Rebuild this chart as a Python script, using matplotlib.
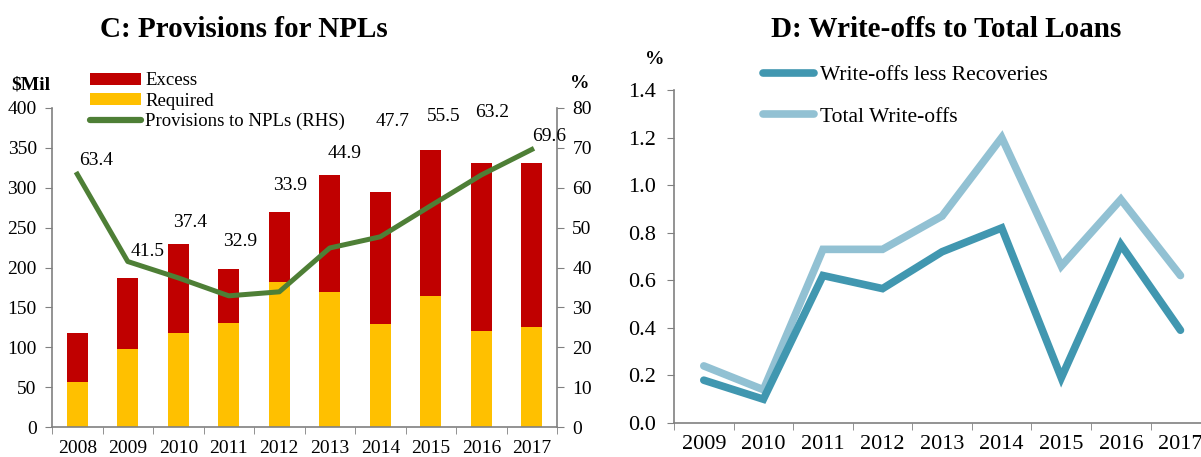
import matplotlib
matplotlib.use("Agg")
import matplotlib.pyplot as plt
import numpy as np

plt.rcParams['font.family'] = ['Liberation Serif', 'DejaVu Serif']

# ---- Data: Panel C ----
years_c = ["2008", "2009", "2010", "2011", "2012", "2013", "2014", "2015", "2016", "2017"]
required = [57, 98, 118, 131, 182, 169, 129, 164, 120, 125]
total_prov = [118, 187, 230, 198, 269, 316, 295, 347, 331, 331]
excess = [t - r for t, r in zip(total_prov, required)]
prov_to_npl = [63.4, 41.5, 37.4, 32.9, 33.9, 44.9, 47.7, 55.5, 63.2, 69.6]

# ---- Data: Panel D ----
years_d = ["2009", "2010", "2011", "2012", "2013", "2014", "2015", "2016", "2017"]
wo_less_rec = [0.18, 0.10, 0.62, 0.565, 0.72, 0.82, 0.19, 0.75, 0.39]
total_wo = [0.24, 0.14, 0.73, 0.73, 0.87, 1.20, 0.66, 0.94, 0.62]

# label placement styling for panel C (x offset in categories, y on RHS scale)
lab_dx = [0.38, 0.40, 0.24, 0.23, 0.21, 0.30, 0.24, 0.25, 0.22, 0.34]
lab_y = [66.9, 43.9, 51.3, 46.6, 60.6, 68.6, 76.5, 77.8, 78.8, 72.9]

RED = "#C00000"
YEL = "#FFC000"
GRN = "#4E7F36"
DARK = "#4197B0"
LIGHT = "#92C1D3"
GREY = "#808080"

fig = plt.figure(figsize=(12.01, 4.57), dpi=100)

# ---------------- Panel C ----------------
ax = fig.add_axes([0.0433, 0.0656, 0.4205, 0.6981])
x = np.arange(len(years_c))
ax.bar(x, required, width=0.42, color=YEL, label="Required", zorder=2)
ax.bar(x, excess, width=0.42, bottom=required, color=RED, label="Excess", zorder=2)
ax.set_xlim(-0.5, len(years_c) - 0.5)
ax.set_ylim(0, 400)
ax.set_yticks(np.arange(0, 401, 50))
ax.set_xticks(x)
ax.set_xticklabels(years_c)
ax.set_xticks(np.arange(-0.5, len(years_c), 1), minor=True)
ax.tick_params(axis='x', which='major', length=0, labelsize=14, pad=9.5)
ax.tick_params(axis='x', which='minor', length=5, color=GREY, direction='out')
ax.tick_params(axis='y', labelsize=14, length=5, color=GREY, direction='out', pad=6)
for s in ['top', 'right']:
    ax.spines[s].set_visible(False)
for s in ['left', 'bottom']:
    ax.spines[s].set_color(GREY)
    ax.spines[s].set_linewidth(1.2)

ax2 = ax.twinx()
ax2.plot(x, prov_to_npl, color=GRN, lw=3.6, label="Provisions to NPLs (RHS)", zorder=3)
ax2.set_ylim(0, 80)
ax2.set_yticks(np.arange(0, 81, 10))
ax2.tick_params(axis='y', labelsize=14, length=5, color=GREY, direction='out', pad=6)
for s in ['top', 'left', 'bottom']:
    ax2.spines[s].set_visible(False)
ax2.spines['right'].set_color(GREY)
ax2.spines['right'].set_linewidth(1.2)
for i, v in enumerate(prov_to_npl):
    ax2.text(i + lab_dx[i], lab_y[i], f"{v:.1f}", ha='center', va='center', fontsize=14)

h1, l1 = ax.get_legend_handles_labels()
h2, l2 = ax2.get_legend_handles_labels()
handles = [h1[1], h1[0], h2[0]]
labels = [l1[1], l1[0], l2[0]]
leg = ax2.legend(handles, labels, loc='upper left', bbox_to_anchor=(0.06, 1.135),
                 frameon=False, fontsize=13.5, handlelength=2.75, handleheight=0.6,
                 labelspacing=0.18, handletextpad=0.2, borderaxespad=0)
for lh in leg.get_lines():
    lh.set_solid_capstyle('round')
    lh.set_linewidth(4.5)

fig.text(0.0095, 0.814, "$Mil", fontsize=14, fontweight='bold', va='center', ha='left')
fig.text(0.483, 0.818, "%", fontsize=14, fontweight='bold', va='center', ha='center')
fig.text(0.203, 0.936, "C: Provisions for NPLs", fontsize=21, fontweight='bold',
         ha='center', va='center')

# ---------------- Panel D ----------------
bx = fig.add_axes([0.5612, 0.0744, 0.4465, 0.7287])
xd = np.arange(len(years_d))
bx.plot(xd, wo_less_rec, color=DARK, lw=5.5, solid_capstyle='round', solid_joinstyle='miter',
        label="Write-offs less Recoveries", zorder=3)
bx.plot(xd, total_wo, color=LIGHT, lw=5.5, solid_capstyle='round', solid_joinstyle='miter',
        label="Total Write-offs", zorder=2)
bx.set_xlim(-0.5, len(years_d) - 0.5)
bx.set_ylim(0, 1.4)
bx.set_yticks(np.arange(0, 1.41, 0.2))
bx.set_yticklabels([f"{v:.1f}" for v in np.arange(0, 1.41, 0.2)])
bx.set_xticks(xd)
bx.set_xticklabels(years_d)
bx.set_xticks(np.arange(-0.5, len(years_d), 1), minor=True)
bx.tick_params(axis='x', which='major', length=0, labelsize=16, pad=9)
bx.tick_params(axis='x', which='minor', length=5, color=GREY, direction='out')
bx.tick_params(axis='y', labelsize=16, length=5, color=GREY, direction='out', pad=8)
for s in ['top', 'right']:
    bx.spines[s].set_visible(False)
for s in ['left', 'bottom']:
    bx.spines[s].set_color(GREY)
    bx.spines[s].set_linewidth(1.2)
bleg = bx.legend(loc='upper left', bbox_to_anchor=(0.149, 1.10), frameon=False, fontsize=15.5,
                 handlelength=2.4, labelspacing=1.0, handletextpad=0.25, borderaxespad=0)
for lh in bleg.get_lines():
    lh.set_solid_capstyle('round')

fig.text(0.545, 0.870, "%", fontsize=14, fontweight='bold', va='center', ha='center')
fig.text(0.788, 0.936, "D: Write-offs to Total Loans", fontsize=21, fontweight='bold',
         ha='center', va='center')

fig.savefig("out.png", dpi=100)
